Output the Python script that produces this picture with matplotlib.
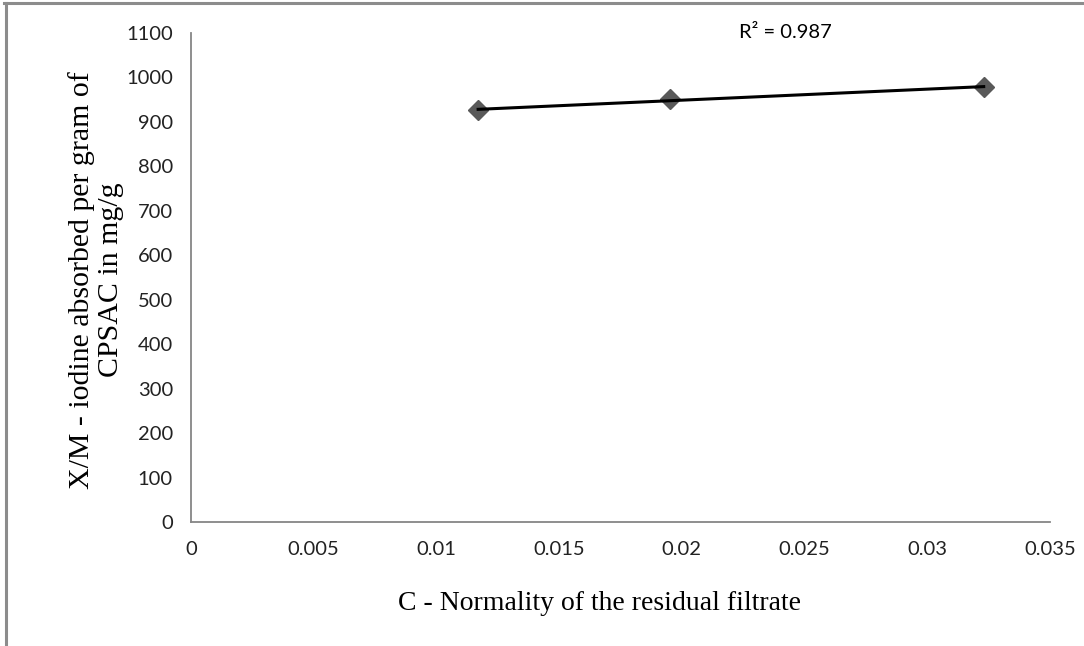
import numpy as np
import matplotlib
matplotlib.use('Agg')
import matplotlib.pyplot as plt
from matplotlib.lines import Line2D

# data
normality = [0.0117, 0.0195, 0.0323]
xm_values = [926, 951, 978]
r_squared = 0.987

x_ticks = [0, 0.005, 0.01, 0.015, 0.02, 0.025, 0.03, 0.035]
x_tick_labels = ['0', '0.005', '0.01', '0.015', '0.02', '0.025', '0.03', '0.035']
y_ticks = list(range(0, 1101, 100))

tick_font = 'Lato'
label_font = 'Liberation Serif'

fig = plt.figure(figsize=(10.84, 6.46), dpi=100)
ax = fig.add_axes([0.1762, 0.192, 0.7924, 0.757])

# linear trendline
coef = np.polyfit(normality, xm_values, 1)
xs = np.array([min(normality), max(normality)])
ax.plot(normality, xm_values, linestyle='none', marker='D', markersize=10.5,
        color='#595959', zorder=2)
ax.plot(xs, np.polyval(coef, xs), color='black', linewidth=2.2, zorder=3)

ax.set_xlim(0, 0.035)
ax.set_ylim(0, 1100)
ax.set_xticks(x_ticks)
ax.set_xticklabels(x_tick_labels, fontfamily=tick_font, fontsize=14.5)
ax.set_yticks(y_ticks)
ax.set_yticklabels([str(v) for v in y_ticks], fontfamily=tick_font, fontsize=14.5)
ax.tick_params(length=0, pad=13, colors='#222222')
ax.tick_params(axis='x', pad=14)

for s in ['top', 'right']:
    ax.spines[s].set_visible(False)
for s in ['left', 'bottom']:
    ax.spines[s].set_color('#868686')
    ax.spines[s].set_linewidth(1.3)

ax.set_xlabel('C - Normality of the residual filtrate', fontfamily=label_font,
              fontsize=20, va='center')
ax.xaxis.set_label_coords(0.475, -0.166)
ax.set_ylabel('X/M - iodine absorbed per gram of\nCPSAC in mg/g', fontfamily=label_font,
              fontsize=21.5, linespacing=1.15, va='center')
ax.yaxis.set_label_coords(-0.1106, 0.495)

ax.text(0.692, 1.0, f'R\u00b2 = {r_squared:.3f}',
        transform=ax.transAxes, ha='center', va='center',
        fontfamily=tick_font, fontsize=14.5)

# outer chart frame (top and left edges only)
fig.add_artist(Line2D([0.004, 1.0], [0.9955, 0.9955], transform=fig.transFigure,
                      color='#8c8c8c', linewidth=2.2))
fig.add_artist(Line2D([0.0055, 0.0055], [0.0, 0.996], transform=fig.transFigure,
                      color='#8c8c8c', linewidth=2.2))

fig.savefig('out.png', dpi=100)
